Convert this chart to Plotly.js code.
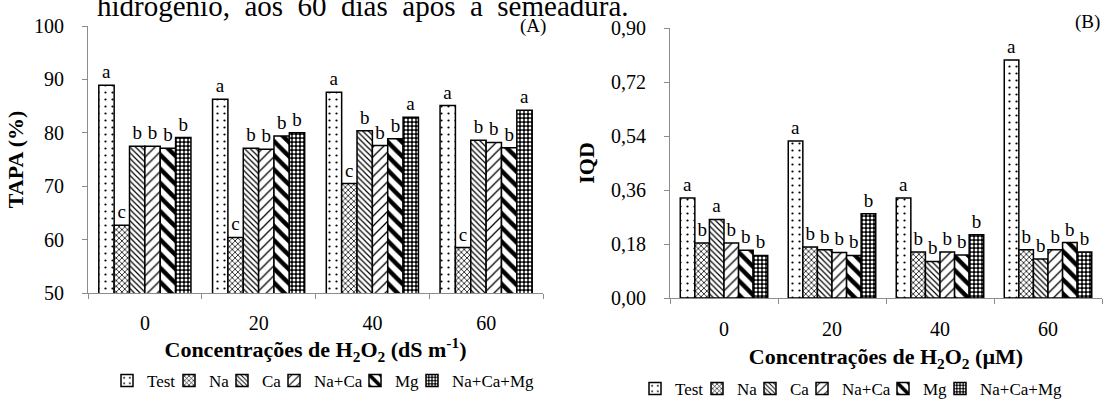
<!DOCTYPE html>
<html>
<head>
<meta charset="utf-8">
<script src="https://cdn.plot.ly/plotly-3.0.1.min.js"></script>
<style>html,body{margin:0;padding:0;background:#fff;}#chart{width:1105px;height:402px;}</style>
</head>
<body>
<div id="chart"></div>
<script>
// ---- data ----
const categories = ['0', '20', '40', '60'];
const seriesNames = ['Test', 'Na', 'Ca', 'Na+Ca', 'Mg', 'Na+Ca+Mg'];

// (A) TAPA (%)
const tapaTest   = [88.9, 86.3, 87.6, 85.1];
const tapaNa     = [62.7, 60.4, 70.5, 58.5];
const tapaCa     = [77.5, 77.1, 80.4, 78.6];
const tapaNaCa   = [77.5, 76.9, 77.6, 78.2];
const tapaMg     = [77.1, 79.4, 78.9, 77.2];
const tapaNaCaMg = [79.1, 80.0, 82.9, 84.2];
const tapaLetters = [
  ['a','a','a','a'],
  ['c','c','c','c'],
  ['b','b','b','b'],
  ['b','b','b','b'],
  ['b','b','b','b'],
  ['b','b','a','a']
];

// (B) IQD
const iqdTest   = [0.333, 0.523, 0.333, 0.793];
const iqdNa     = [0.183, 0.170, 0.153, 0.161];
const iqdCa     = [0.262, 0.161, 0.122, 0.130];
const iqdNaCa   = [0.183, 0.152, 0.153, 0.161];
const iqdMg     = [0.159, 0.142, 0.143, 0.185];
const iqdNaCaMg = [0.142, 0.281, 0.211, 0.153];
const iqdLetters = [
  ['a','a','a','a'],
  ['b','b','b','b'],
  ['a','b','b','b'],
  ['b','b','b','b'],
  ['b','b','b','b'],
  ['b','b','b','b']
];

const tapaSeries = [tapaTest, tapaNa, tapaCa, tapaNaCa, tapaMg, tapaNaCaMg];
const iqdSeries  = [iqdTest, iqdNa, iqdCa, iqdNaCa, iqdMg, iqdNaCaMg];

// ---- styles ----
const FONT = 'Liberation Serif';
const patterns = [
  {shape: '.',  fgcolor: '#000', bgcolor: '#fff', size: 7,  solidity: 0.08, fillmode: 'replace'},
  {shape: 'x',  fgcolor: '#000', bgcolor: '#fff', size: 4,  solidity: 0.35, fillmode: 'replace'},
  {shape: '\\', fgcolor: '#000', bgcolor: '#fff', size: 4,  solidity: 0.3,  fillmode: 'replace'},
  {shape: '/',  fgcolor: '#000', bgcolor: '#fff', size: 7,  solidity: 0.18, fillmode: 'replace'},
  {shape: '\\', fgcolor: '#000', bgcolor: '#fff', size: 10, solidity: 0.45, fillmode: 'replace'},
  {shape: '.',  fgcolor: '#fff', bgcolor: '#000', size: 4,  solidity: 0.45, fillmode: 'replace'}
];
// legend entry widths (px) so the entries sit tightly, as in the reference (0 = automatic)
const legendWidths = [17, 8, 7, 36, 12, 0];

const letterFont = {family: FONT, size: 19, color: '#000'};
const traces = [];
seriesNames.forEach((name, i) => {
  traces.push({
    type: 'bar', x: categories, y: tapaSeries[i], name: name,
    xaxis: 'x', yaxis: 'y', legend: 'legend', legendwidth: legendWidths[i],
    text: tapaLetters[i], textposition: 'outside', constraintext: 'none', cliponaxis: false,
    textfont: letterFont, outsidetextfont: letterFont,
    marker: {color: patterns[i].bgcolor, pattern: patterns[i], line: {color: '#000', width: 1.5}},
    hoverinfo: 'x+y+name'
  });
});
seriesNames.forEach((name, i) => {
  traces.push({
    type: 'bar', x: categories, y: iqdSeries[i], name: name,
    xaxis: 'x2', yaxis: 'y2', legend: 'legend2', legendwidth: legendWidths[i],
    text: iqdLetters[i], textposition: 'outside', constraintext: 'none', cliponaxis: false,
    textfont: letterFont, outsidetextfont: letterFont,
    marker: {color: patterns[i].bgcolor, pattern: patterns[i], line: {color: '#000', width: 1.5}},
    hoverinfo: 'x+y+name'
  });
});

const W = 1105, H = 402;
const px = v => v / W;
const py = v => 1 - v / H;

const tickFont = {family: FONT, size: 20, color: '#000'};
const titleFont = {family: FONT, size: 22, color: '#000', weight: 'bold'};
const legendFont = {family: FONT, size: 17, color: '#000'};
const axisCommon = {
  showline: true, linecolor: '#8c8c8c', linewidth: 1,
  ticks: 'outside', tickcolor: '#8c8c8c', ticklen: 5, tickwidth: 1,
  showgrid: false, zeroline: false, fixedrange: true
};

const layout = {
  width: W, height: H,
  margin: {l: 0, r: 0, t: 0, b: 0, autoexpand: false},
  paper_bgcolor: '#fff', plot_bgcolor: '#fff',
  separators: ',.',
  barmode: 'group', bargap: 0.19, bargroupgap: 0,
  font: {family: FONT, color: '#000', size: 16},
  xaxis: Object.assign({}, axisCommon, {
    domain: [px(88), px(543)], anchor: 'y', type: 'category', tickson: 'boundaries',
    tickfont: tickFont, ticklabelstandoff: 12,
    title: {text: 'Concentrações de H<sub>2</sub>O<sub>2</sub> (dS m<sup>-1</sup>)', font: titleFont, standoff: 0}
  }),
  yaxis: Object.assign({}, axisCommon, {
    domain: [py(293), py(26)], anchor: 'x', range: [50, 100], dtick: 10, tick0: 50,
    tickfont: tickFont, ticklabelstandoff: 14,
    title: {text: 'TAPA (%)', font: titleFont, standoff: 4}
  }),
  xaxis2: Object.assign({}, axisCommon, {
    domain: [px(670), px(1102)], anchor: 'y2', type: 'category', tickson: 'boundaries',
    tickfont: tickFont, ticklabelstandoff: 13,
    title: {text: 'Concentrações de H<sub>2</sub>O<sub>2</sub> (µM)', font: titleFont, standoff: 9}
  }),
  yaxis2: Object.assign({}, axisCommon, {
    domain: [py(298), py(28)], anchor: 'x2', range: [0, 0.9], dtick: 0.18, tick0: 0,
    tickformat: '.2f', tickfont: tickFont, ticklabelstandoff: 14,
    title: {text: 'IQD', font: titleFont, standoff: 10}
  }),
  legend: {
    orientation: 'h', x: px(323), xanchor: 'center', y: py(381), yanchor: 'middle',
    font: legendFont, itemwidth: 30, traceorder: 'normal',
    bgcolor: 'rgba(0,0,0,0)', itemclick: false, itemdoubleclick: false
  },
  legend2: {
    orientation: 'h', x: px(851), xanchor: 'center', y: py(389), yanchor: 'middle',
    font: legendFont, itemwidth: 30, traceorder: 'normal',
    bgcolor: 'rgba(0,0,0,0)', itemclick: false, itemdoubleclick: false
  },
  annotations: [
    {xref: 'paper', yref: 'paper', x: px(533), y: py(26), text: '(A)', showarrow: false,
     xanchor: 'center', yanchor: 'middle', font: {family: FONT, size: 19, color: '#000'}},
    {xref: 'paper', yref: 'paper', x: px(1087), y: py(22), text: '(B)', showarrow: false,
     xanchor: 'center', yanchor: 'middle', font: {family: FONT, size: 19, color: '#000'}},
    {xref: 'paper', yref: 'paper', x: px(95), y: py(6), xanchor: 'left', yanchor: 'middle', showarrow: false,
     text: 'hidrogênio, \u00a0aos \u00a060 \u00a0dias \u00a0após \u00a0a \u00a0semeadura.',
     font: {family: FONT, size: 29, color: '#000'}}
  ],
  showlegend: true
};

Plotly.newPlot('chart', traces, layout, {displayModeBar: false, staticPlot: true});
</script>
</body>
</html>
